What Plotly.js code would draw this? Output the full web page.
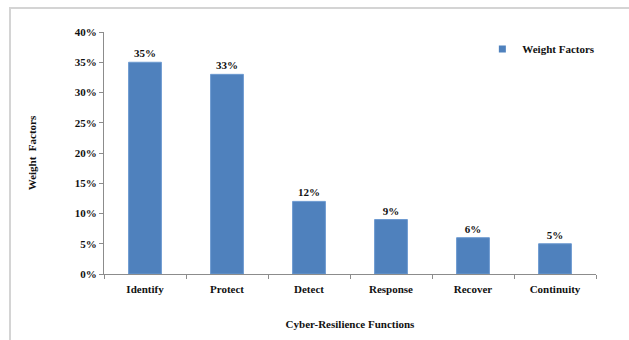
<!DOCTYPE html>
<html>
<head>
<meta charset="utf-8">
<script src="https://cdn.plot.ly/plotly-3.0.1.min.js"></script>
<style>
  html, body { margin: 0; padding: 0; background: #fff; }
  #frame { position: absolute; left: 9px; top: 7px; width: 640px; height: 360px;
           border-top: 2px solid #d4d4d4; border-left: 2px solid #d4d4d4; }
  #chart { position: absolute; left: 0; top: 0; width: 629px; height: 340px; }
</style>
</head>
<body>
<div id="frame"></div>
<div id="chart"></div>
<script>
const categories = ["Identify", "Protect", "Detect", "Response", "Recover", "Continuity"];
const weightFactors = [35, 33, 12, 9, 6, 5];
const seriesName = "Weight Factors";
const yTicks = [0, 5, 10, 15, 20, 25, 30, 35, 40];

const font = { family: "Liberation Serif, Times New Roman, serif", color: "#111", size: 11 };
const barColor = "#4f81bd";

const bars = {
  type: "bar",
  x: categories,
  y: weightFactors,
  name: seriesName,
  marker: { color: barColor, line: { color: "#6d9ad0", width: 1 } },
  text: weightFactors.map(v => "<b>" + v + "%</b>"),
  textposition: "outside",
  textfont: { family: font.family, size: 11, color: "#111" },
  cliponaxis: false,
  showlegend: false,
  hoverinfo: "none"
};

// legend entry with a small square key, as in the original
const legendKey = {
  type: "scatter",
  mode: "markers",
  x: [null], y: [null],
  name: seriesName,
  marker: { symbol: "square", size: 7, color: barColor },
  showlegend: true,
  hoverinfo: "none"
};

const layout = {
  width: 629, height: 340,
  paper_bgcolor: "rgba(0,0,0,0)",
  plot_bgcolor: "rgba(0,0,0,0)",
  margin: { l: 104, r: 33, t: 32, b: 66 },
  bargap: 0.6,
  font: font,
  showlegend: true,
  legend: {
    x: 0.769, y: 0.93, xanchor: "left", yanchor: "middle",
    font: { family: font.family, size: 11, color: "#111", weight: "bold" },
    bgcolor: "rgba(0,0,0,0)", itemwidth: 30
  },
  xaxis: {
    type: "category",
    showline: true, linecolor: "#8c8c8c", linewidth: 1,
    ticks: "outside", ticklen: 4, tickcolor: "#8c8c8c", tickson: "boundaries",
    ticklabelstandoff: 5,
    showgrid: false, zeroline: false,
    tickfont: { family: font.family, size: 11, color: "#111", weight: "bold" },
    title: { text: "<b>Cyber-Resilience Functions</b>", standoff: 26,
             font: { family: font.family, size: 11, color: "#111" } },
    automargin: false
  },
  yaxis: {
    range: [0, 40],
    tickvals: yTicks,
    ticktext: yTicks.map(v => "<b>" + v + "%</b>"),
    showline: true, linecolor: "#8c8c8c", linewidth: 1,
    ticks: "outside", ticklen: 4, tickcolor: "#8c8c8c",
    showgrid: false, zeroline: false,
    tickfont: { family: font.family, size: 11, color: "#111" },
    title: { text: "<b>Weight  Factors</b>", standoff: 35,
             font: { family: font.family, size: 11, color: "#111" } },
    automargin: false
  }
};

Plotly.newPlot("chart", [bars, legendKey], layout, { staticPlot: true, displayModeBar: false });
</script>
</body>
</html>
